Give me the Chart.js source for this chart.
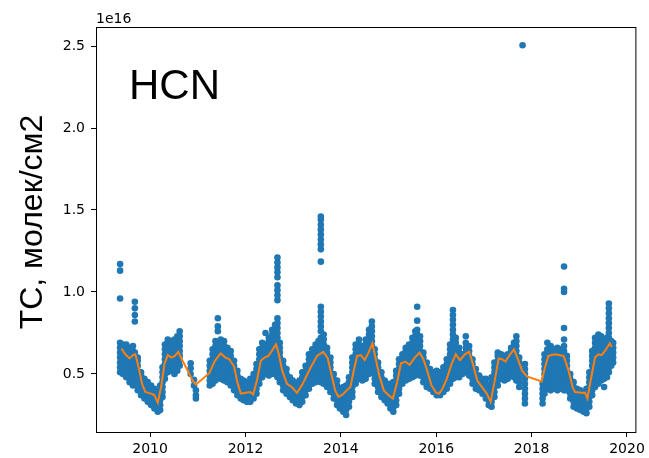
<!DOCTYPE html>
<html><head><meta charset="utf-8">
<script src="https://cdn.jsdelivr.net/npm/chart.js@4/dist/chart.umd.min.js"></script>
<style>html,body{margin:0;padding:0;background:#fff}canvas{display:block}</style>
</head><body>
<canvas id="c" width="649" height="458"></canvas>
<script>
// Observed HCN total columns, in units of 1e16 molec/cm2.
// Each entry: [decimal year, values observed at that time...]
const obs2009 = [
 [2009.37, 0.51,0.54,0.57,0.60,0.63,0.66,0.69, 0.96,1.13,1.17],
 [2009.43, 0.50,0.53,0.56,0.59,0.62,0.65,0.68],
 [2009.50, 0.48,0.51,0.54,0.57,0.60,0.63,0.66,0.68],
 [2009.57, 0.45,0.48,0.51,0.54,0.57,0.60,0.63,0.66],
 [2009.64, 0.43,0.46,0.49,0.52,0.55,0.58,0.61,0.64,0.67],
 [2009.68, 0.45,0.48,0.51,0.54,0.57,0.60,0.63, 0.82,0.86,0.90,0.94],
 [2009.74, 0.40,0.43,0.46,0.49,0.52,0.55,0.58,0.60],
 [2009.81, 0.37,0.40,0.43,0.46,0.49,0.51],
 [2009.88, 0.35,0.38,0.41,0.44,0.47],
 [2009.95, 0.33,0.36,0.39,0.42,0.45]
];
const obs2010 = [
 [2010.02, 0.31,0.34,0.37,0.40,0.43],
 [2010.09, 0.29,0.32,0.35,0.38,0.41],
 [2010.16, 0.27,0.30,0.33,0.36,0.39],
 [2010.21, 0.28,0.31,0.34,0.37,0.40,0.43],
 [2010.26, 0.36,0.39,0.42,0.45,0.48,0.51,0.54],
 [2010.31, 0.47,0.50,0.53,0.56,0.59,0.62,0.65,0.68],
 [2010.37, 0.51,0.54,0.57,0.60,0.63,0.66,0.69,0.71],
 [2010.44, 0.52,0.55,0.58,0.61,0.64,0.67,0.70],
 [2010.51, 0.50,0.53,0.56,0.59,0.62,0.65,0.68,0.71],
 [2010.57, 0.52,0.55,0.58,0.61,0.64,0.67,0.70,0.73],
 [2010.62, 0.55,0.58,0.61,0.64,0.67,0.70,0.73,0.76],
 [2010.85, 0.50,0.535,0.565],
 [2010.92, 0.43,0.465],
 [2010.96, 0.35,0.37,0.40]
];
const obs2011 = [
 [2011.25, 0.43,0.46,0.49,0.52,0.55,0.58],
 [2011.31, 0.44,0.47,0.50,0.53,0.56,0.59,0.62,0.65],
 [2011.37, 0.46,0.49,0.52,0.55,0.58,0.61,0.64,0.67,0.70],
 [2011.42, 0.48,0.51,0.54,0.57,0.60,0.63,0.66,0.69, 0.76,0.79,0.84],
 [2011.48, 0.47,0.50,0.53,0.56,0.59,0.62,0.65,0.68,0.71],
 [2011.55, 0.46,0.49,0.52,0.55,0.58,0.61,0.64,0.67,0.70],
 [2011.62, 0.45,0.48,0.51,0.54,0.57,0.60,0.63,0.66],
 [2011.69, 0.43,0.46,0.49,0.52,0.55,0.58,0.61,0.64],
 [2011.76, 0.40,0.43,0.46,0.49,0.52,0.55,0.58],
 [2011.83, 0.37,0.40,0.43,0.46,0.49,0.52],
 [2011.90, 0.35,0.38,0.41,0.44,0.47],
 [2011.96, 0.34,0.37,0.40,0.43,0.46]
];
const obs2012 = [
 [2012.03, 0.33,0.36,0.39,0.42,0.45],
 [2012.10, 0.33,0.36,0.39,0.42,0.45,0.47],
 [2012.17, 0.35,0.38,0.41,0.44,0.47,0.50],
 [2012.23, 0.38,0.41,0.44,0.47,0.50,0.53,0.56],
 [2012.29, 0.44,0.47,0.50,0.53,0.56,0.59,0.62,0.65],
 [2012.35, 0.48,0.51,0.54,0.57,0.60,0.63,0.66,0.69],
 [2012.42, 0.50,0.53,0.56,0.59,0.62,0.65,0.68, 0.75],
 [2012.49, 0.49,0.52,0.55,0.58,0.61,0.64,0.67,0.70,0.72],
 [2012.56, 0.50,0.53,0.56,0.59,0.62,0.65,0.68,0.71,0.74,0.77],
 [2012.62, 0.50,0.53,0.56,0.59,0.62,0.65,0.68,0.71,0.74,0.77,0.80],
 [2012.67, 0.48,0.51,0.54,0.57,0.60,0.63,0.66,0.69,0.72,0.75,0.78,0.81,0.84, 0.95,0.98,1.01,1.04,1.09,1.12,1.15,1.18,1.21],
 [2012.72, 0.45,0.48,0.51,0.54,0.57,0.60,0.63,0.66,0.69],
 [2012.79, 0.40,0.43,0.46,0.49,0.52,0.55,0.58],
 [2012.86, 0.38,0.41,0.44,0.47,0.50,0.53],
 [2012.93, 0.36,0.39,0.42,0.45,0.48],
 [2012.99, 0.34,0.37,0.40,0.43,0.46]
];
const obs2013 = [
 [2013.06, 0.32,0.35,0.38,0.41,0.44],
 [2013.13, 0.31,0.34,0.37,0.40,0.43,0.46],
 [2013.19, 0.33,0.36,0.39,0.42,0.45,0.48,0.51],
 [2013.26, 0.37,0.40,0.43,0.46,0.49,0.52,0.55],
 [2013.33, 0.41,0.44,0.47,0.50,0.53,0.56,0.59,0.62],
 [2013.40, 0.44,0.47,0.50,0.53,0.56,0.59,0.62,0.65],
 [2013.47, 0.45,0.48,0.51,0.54,0.57,0.60,0.63,0.66,0.68],
 [2013.53, 0.46,0.49,0.52,0.55,0.58,0.61,0.64,0.67,0.70],
 [2013.58, 0.45,0.48,0.51,0.54,0.57,0.60,0.63,0.66,0.69,0.72,0.76,0.79,0.82,0.85,0.88,0.91, 1.185,1.26,1.29,1.32,1.35,1.38,1.41,1.44,1.46],
 [2013.64, 0.44,0.47,0.50,0.53,0.56,0.59,0.62,0.65,0.68,0.71,0.74],
 [2013.71, 0.42,0.45,0.48,0.51,0.54,0.57,0.60,0.63,0.66],
 [2013.78, 0.39,0.42,0.45,0.48,0.51,0.54,0.57,0.60],
 [2013.85, 0.35,0.38,0.41,0.44,0.47,0.50],
 [2013.92, 0.31,0.34,0.37,0.40,0.43,0.46],
 [2013.98, 0.29,0.32,0.35,0.38,0.41]
];
const obs2014 = [
 [2014.05, 0.27,0.30,0.33,0.36,0.39,0.42],
 [2014.11, 0.25,0.28,0.31,0.34,0.37,0.40,0.43],
 [2014.17, 0.30,0.33,0.36,0.39,0.42,0.45,0.48],
 [2014.24, 0.36,0.39,0.42,0.45,0.48,0.51,0.54,0.57,0.60],
 [2014.31, 0.44,0.47,0.50,0.53,0.56,0.59,0.62,0.65,0.68],
 [2014.38, 0.47,0.50,0.53,0.56,0.59,0.62,0.65,0.68,0.71],
 [2014.45, 0.46,0.49,0.52,0.55,0.58,0.61,0.64,0.67],
 [2014.52, 0.47,0.50,0.53,0.56,0.59,0.62,0.65,0.68,0.71],
 [2014.59, 0.50,0.53,0.56,0.59,0.62,0.65,0.68,0.71,0.74,0.77],
 [2014.65, 0.52,0.55,0.58,0.61,0.64,0.67,0.70,0.73,0.76,0.79,0.82],
 [2014.71, 0.44,0.47,0.50,0.53,0.56,0.59,0.62,0.65],
 [2014.78, 0.39,0.42,0.45,0.48,0.51,0.54,0.57],
 [2014.85, 0.36,0.39,0.42,0.45,0.48,0.51],
 [2014.92, 0.34,0.37,0.40,0.43,0.46],
 [2014.98, 0.32,0.35,0.38,0.41,0.44]
];
const obs2015 = [
 [2015.04, 0.29,0.32,0.35,0.38,0.41,0.44],
 [2015.10, 0.27,0.30,0.33,0.36,0.39,0.42,0.45],
 [2015.16, 0.31,0.34,0.37,0.40,0.43,0.46,0.49,0.52],
 [2015.22, 0.38,0.41,0.44,0.47,0.50,0.53,0.56,0.59],
 [2015.29, 0.44,0.47,0.50,0.53,0.56,0.59,0.62],
 [2015.36, 0.46,0.49,0.52,0.55,0.58,0.61,0.64,0.66],
 [2015.43, 0.47,0.50,0.53,0.56,0.59,0.62,0.65,0.68],
 [2015.50, 0.48,0.51,0.54,0.57,0.60,0.63,0.66,0.69,0.72],
 [2015.56, 0.49,0.52,0.55,0.58,0.61,0.64,0.67,0.70,0.73,0.76],
 [2015.60, 0.50,0.53,0.56,0.59,0.62,0.65,0.68,0.71,0.74,0.77, 0.825,0.91],
 [2015.66, 0.49,0.52,0.55,0.58,0.61,0.64,0.67,0.70,0.73],
 [2015.73, 0.45,0.48,0.51,0.54,0.57,0.60,0.63],
 [2015.80, 0.42,0.45,0.48,0.51,0.54,0.57],
 [2015.87, 0.41,0.44,0.47,0.50,0.53],
 [2015.94, 0.39,0.42,0.45,0.48,0.51]
];
const obs2016 = [
 [2016.01, 0.37,0.40,0.43,0.46,0.49,0.52],
 [2016.08, 0.37,0.40,0.43,0.46,0.49,0.51],
 [2016.15, 0.39,0.42,0.45,0.48,0.51,0.54],
 [2016.22, 0.41,0.44,0.47,0.50,0.53,0.56,0.59],
 [2016.29, 0.44,0.47,0.50,0.53,0.56,0.59,0.62,0.65,0.68],
 [2016.35, 0.47,0.50,0.53,0.56,0.59,0.62,0.65,0.68,0.71,0.74,0.77,0.80,0.83,0.86,0.89],
 [2016.41, 0.48,0.51,0.54,0.57,0.60,0.63,0.66,0.69,0.72],
 [2016.48, 0.48,0.51,0.54,0.57,0.60,0.63,0.66],
 [2016.55, 0.50,0.53,0.56,0.59,0.62],
 [2016.62, 0.51,0.54,0.57,0.60,0.63,0.66,0.69,0.73],
 [2016.69, 0.49,0.52,0.55,0.58,0.61,0.64,0.67],
 [2016.76, 0.44,0.47,0.50,0.53,0.56,0.59],
 [2016.83, 0.41,0.44,0.47,0.50,0.53],
 [2016.90, 0.40,0.43,0.46,0.49],
 [2016.97, 0.38,0.41,0.44,0.47]
];
const obs2017 = [
 [2017.04, 0.35,0.38,0.41,0.44,0.47],
 [2017.10, 0.31,0.34,0.37,0.40,0.43],
 [2017.16, 0.30,0.33,0.36,0.39,0.42,0.45,0.48],
 [2017.22, 0.36,0.39,0.42,0.45,0.48,0.51,0.54,0.57],
 [2017.29, 0.43,0.46,0.49,0.52,0.55,0.58,0.61,0.63],
 [2017.36, 0.47,0.50,0.53,0.56,0.59,0.62],
 [2017.43, 0.46,0.49,0.52,0.55,0.58,0.61],
 [2017.50, 0.47,0.50,0.53,0.56,0.59,0.62],
 [2017.57, 0.49,0.52,0.55,0.58,0.61,0.64,0.66],
 [2017.63, 0.48,0.51,0.54,0.57,0.60,0.63,0.66,0.69],
 [2017.68, 0.46,0.49,0.52,0.55,0.58,0.61,0.64,0.67,0.70,0.73],
 [2017.74, 0.42,0.45,0.48,0.51,0.54,0.57,0.60],
 [2017.81, 2.505],
 [2017.86, 0.32,0.35,0.38,0.41,0.44,0.47,0.50,0.53,0.56]
];
const obs2018 = [
 [2018.23, 0.32,0.35,0.38,0.41,0.44],
 [2018.27, 0.38,0.41,0.44,0.47,0.50,0.53,0.56,0.59,0.62],
 [2018.33, 0.41,0.44,0.47,0.50,0.53,0.56,0.59,0.62,0.65,0.69],
 [2018.40, 0.40,0.43,0.46,0.49,0.52,0.55,0.58,0.61,0.64,0.67],
 [2018.47, 0.41,0.44,0.47,0.50,0.53,0.56,0.59,0.62,0.65],
 [2018.54, 0.40,0.43,0.46,0.49,0.52,0.55,0.58,0.61,0.64,0.66],
 [2018.61, 0.41,0.44,0.47,0.50,0.53,0.56,0.59,0.62,0.65],
 [2018.68, 0.40,0.43,0.46,0.49,0.52,0.55,0.58,0.61,0.64,0.67,0.71, 0.78,1.00,1.02,1.155],
 [2018.74, 0.40,0.43,0.46,0.49,0.52,0.55,0.58,0.61],
 [2018.81, 0.35,0.38,0.41,0.44,0.47,0.50],
 [2018.88, 0.30,0.33,0.36,0.39,0.42,0.45],
 [2018.95, 0.29,0.32,0.35,0.38,0.41]
];
const obs2019 = [
 [2019.02, 0.28,0.31,0.34,0.37,0.40],
 [2019.09, 0.27,0.30,0.33,0.36,0.39],
 [2019.15, 0.26,0.29,0.32,0.35,0.38,0.41],
 [2019.21, 0.30,0.33,0.36,0.39,0.42,0.45,0.48,0.51],
 [2019.27, 0.37,0.40,0.43,0.46,0.49,0.52,0.55,0.58,0.61,0.64],
 [2019.33, 0.42,0.45,0.48,0.51,0.54,0.57,0.60,0.63,0.66,0.69,0.72],
 [2019.40, 0.44,0.47,0.50,0.53,0.56,0.59,0.62,0.65,0.68,0.71,0.74],
 [2019.46, 0.46,0.49,0.52,0.55,0.58,0.61,0.64,0.67,0.70,0.73],
 [2019.52, 0.42,0.47,0.50,0.53,0.56,0.59,0.62,0.65,0.68,0.71],
 [2019.58, 0.48,0.51,0.54,0.57,0.60,0.63,0.66,0.69,0.72],
 [2019.62, 0.51,0.54,0.57,0.60,0.63,0.66,0.69,0.72,0.75,0.78,0.81,0.84,0.87,0.90,0.93],
 [2019.67, 0.55,0.58,0.61,0.64,0.67,0.70],
 [2019.71, 0.57,0.60,0.63,0.66,0.69]
];
// Smoothed mean curve: [decimal year, value in 1e16 molec/cm2]
const smoothMean = [
 [2009.40,0.655],[2009.48,0.62],[2009.57,0.595],[2009.64,0.615],[2009.69,0.62],[2009.76,0.54],[2009.83,0.44],[2009.90,0.39],
 [2010.02,0.38],[2010.09,0.37],[2010.16,0.325],[2010.23,0.42],[2010.30,0.56],[2010.37,0.615],[2010.45,0.60],[2010.52,0.61],
 [2010.59,0.635],[2010.68,0.58],[2010.79,0.52],[2010.88,0.465],[2010.96,0.435],[2011.24,0.505],[2011.36,0.58],[2011.48,0.625],
 [2011.58,0.60],[2011.66,0.59],[2011.76,0.545],[2011.83,0.45],[2011.90,0.38],[2012.00,0.385],[2012.10,0.39],[2012.16,0.375],
 [2012.24,0.46],[2012.32,0.58],[2012.40,0.60],[2012.48,0.61],[2012.56,0.645],[2012.64,0.68],[2012.70,0.62],[2012.77,0.52],
 [2012.87,0.44],[2012.97,0.42],[2013.08,0.385],[2013.20,0.44],[2013.35,0.53],[2013.50,0.61],[2013.63,0.635],[2013.72,0.60],
 [2013.80,0.50],[2013.88,0.40],[2013.95,0.36],[2014.04,0.375],[2014.12,0.40],[2014.20,0.42],[2014.27,0.52],[2014.34,0.61],
 [2014.42,0.615],[2014.50,0.585],[2014.58,0.63],[2014.66,0.685],[2014.74,0.58],[2014.81,0.485],[2014.90,0.40],[2015.00,0.37],
 [2015.09,0.35],[2015.18,0.45],[2015.26,0.565],[2015.35,0.575],[2015.44,0.555],[2015.55,0.60],[2015.65,0.63],[2015.73,0.59],
 [2015.80,0.53],[2015.90,0.43],[2016.00,0.385],[2016.06,0.38],[2016.13,0.41],[2016.22,0.47],[2016.32,0.56],[2016.41,0.62],
 [2016.50,0.585],[2016.60,0.62],[2016.69,0.635],[2016.76,0.57],[2016.86,0.46],[2016.96,0.42],[2017.06,0.38],[2017.14,0.33],
 [2017.22,0.45],[2017.31,0.595],[2017.38,0.59],[2017.45,0.575],[2017.55,0.62],[2017.63,0.65],[2017.70,0.60],[2017.80,0.52],
 [2017.90,0.485],[2018.21,0.455],[2018.28,0.54],[2018.35,0.61],[2018.49,0.62],[2018.67,0.61],[2018.77,0.525],[2018.86,0.42],
 [2018.91,0.39],[2019.05,0.385],[2019.12,0.385],[2019.17,0.35],[2019.25,0.48],[2019.33,0.60],[2019.40,0.62],[2019.47,0.615],
 [2019.56,0.65],[2019.64,0.687],[2019.68,0.665]
];
const xTickYears = [2010, 2012, 2014, 2016, 2018, 2020];
const yTickValues = [0.5, 1.0, 1.5, 2.0, 2.5];
const gasName = 'HCN';
const yAxisTitle = 'TC, молек/см2';
const offsetText = '1e16';

const obsColumns = [].concat(obs2009, obs2010, obs2011, obs2012, obs2013, obs2014, obs2015, obs2016, obs2017, obs2018, obs2019);
const obsPoints = [];
obsColumns.forEach(col => { for (let i = 1; i < col.length; i++) obsPoints.push({x: col[0], y: col[i]}); });
const meanPoints = smoothMean.map(p => ({x: p[0], y: p[1]}));

const deco = {
  id: 'deco',
  afterDraw(chart) {
    const {ctx, chartArea: a} = chart;
    ctx.save();
    ctx.strokeStyle = '#000';
    ctx.lineWidth = 1;
    ctx.strokeRect(a.left + 0.5, a.top + 0.5, a.right - a.left - 1, a.bottom - a.top);
    ctx.fillStyle = '#000';
    ctx.font = '14px "DejaVu Sans"';
    ctx.textAlign = 'left';
    ctx.textBaseline = 'alphabetic';
    ctx.fillText(offsetText, a.left, 23);
    ctx.font = '42px "Liberation Sans"';
    ctx.fillText(gasName, 129, 99);
    ctx.translate(42, 222);
    ctx.rotate(-Math.PI / 2);
    ctx.textAlign = 'center';
    ctx.font = '32px "Liberation Sans"';
    ctx.fillText(yAxisTitle, 0, 0);
    ctx.restore();
  }
};

new Chart(document.getElementById('c'), {
  type: 'scatter',
  data: {
    datasets: [
      { type: 'line', data: meanPoints, borderColor: '#ff7f0e', borderWidth: 2, pointRadius: 0, fill: false, tension: 0, order: 0 },
      { data: obsPoints, backgroundColor: '#1f77b4', borderWidth: 0, pointRadius: 3.3, order: 1 }
    ]
  },
  options: {
    responsive: false,
    animation: false,
    devicePixelRatio: 1,
    events: [],
    layout: { padding: { left: 0, right: 11, top: 27, bottom: 0 } },
    plugins: { legend: { display: false }, tooltip: { enabled: false } },
    scales: {
      x: {
        type: 'linear', min: 2008.865, max: 2020.197,
        afterBuildTicks: ax => { ax.ticks = xTickYears.map(v => ({ value: v })); },
        afterFit: ax => { ax.height = 26; },
        grid: { drawOnChartArea: false, drawTicks: true, tickLength: 5, color: '#000', lineWidth: 1 },
        border: { display: false },
        ticks: { callback: v => String(v), font: { family: 'DejaVu Sans', size: 14 }, color: '#000', padding: 4, maxRotation: 0, autoSkip: false }
      },
      y: {
        type: 'linear', min: 0.146, max: 2.616,
        afterBuildTicks: ax => { ax.ticks = yTickValues.map(v => ({ value: v })); },
        afterFit: ax => { ax.width = 96; },
        grid: { drawOnChartArea: false, drawTicks: true, tickLength: 5, color: '#000', lineWidth: 1 },
        border: { display: false },
        ticks: { callback: v => v.toFixed(1), font: { family: 'DejaVu Sans', size: 14 }, color: '#000', padding: 6 }
      }
    }
  },
  plugins: [deco]
});
</script>
</body></html>
